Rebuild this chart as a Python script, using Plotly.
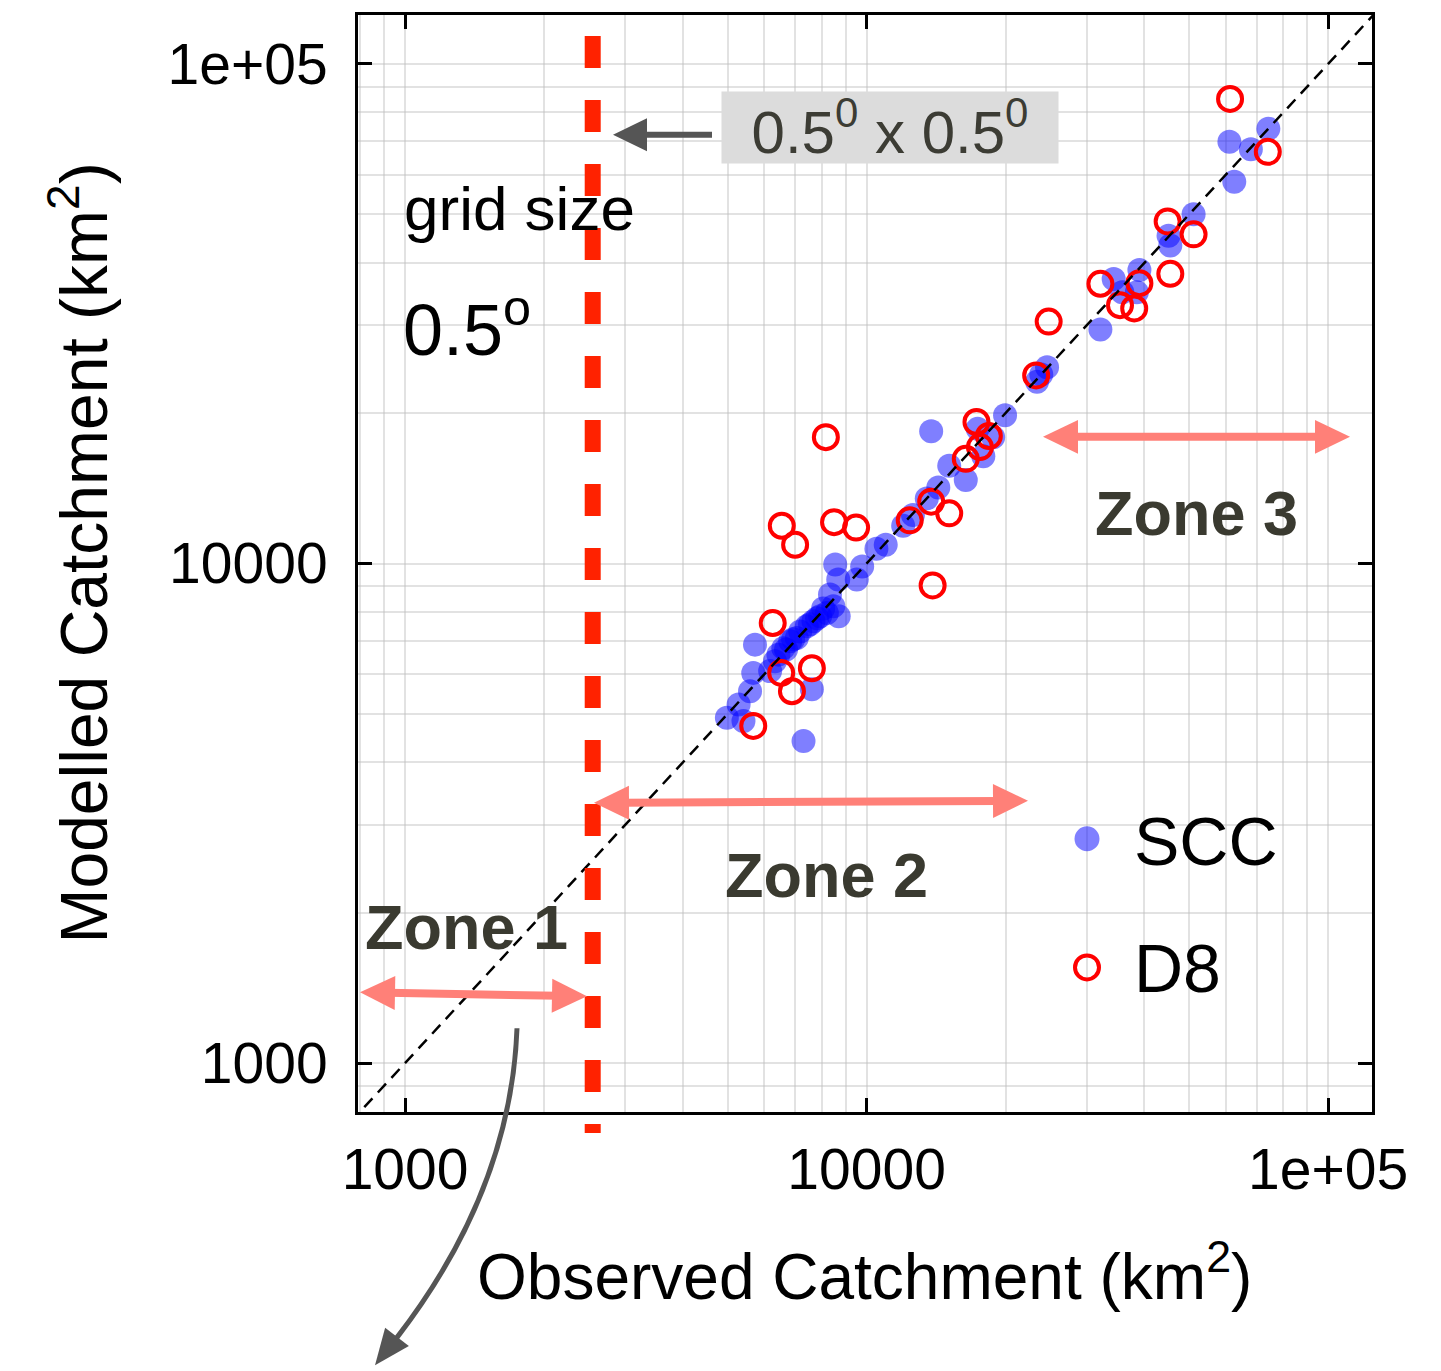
import plotly.graph_objects as go
import math

# ---------------- data ----------------
scc_observed = [74200, 61100, 68000, 62600, 51100, 45100, 45500, 39000, 34300, 38500,
                35800, 32100, 24600, 23400, 23900, 19950, 17400, 18800, 17900, 16400,
                15100, 13800, 14300, 13500, 12600, 12000, 11000, 10500, 9780, 8550,
                8680, 9520, 8470, 8700, 8200, 7930, 7670, 7420, 7180, 7060,
                6830, 6600, 6440, 6330, 5730, 5680, 5590, 5280, 4980, 5410,
                7300, 7610, 6180, 8330, 8050, 7540, 7810, 6930, 6690]
scc_modelled = [74200, 69900, 67500, 58100, 50000, 45300, 43300, 38700, 37100, 34900,
                34900, 29400, 24700, 23100, 23900, 19800, 18600, 17900, 16400, 14700,
                15700, 18400, 14200, 13500, 12500, 11900, 10900, 10700, 9860, 9950,
                9290, 9290, 8210, 7840, 7960, 7840, 7660, 7490, 7310, 7090,
                6990, 6770, 6570, 6370, 6880, 6040, 5550, 5220, 4910, 4840,
                4410, 5600, 6090, 8670, 8130, 7560, 7770, 7050, 6730]

d8_observed = [61300, 74000, 44900, 51100, 45500, 32100, 39000, 35400, 38000, 24800,
               23300, 17300, 18400, 17600, 16400, 8160, 13800, 12400, 15100, 6550,
               7000, 8500, 9490, 13900, 6260, 6530, 7610, 6890, 5680]
d8_modelled = [85100, 66700, 48400, 45600, 38000, 36300, 36400, 32900, 32400, 30500,
               23800, 19200, 18000, 17100, 16200, 17900, 13300, 12200, 12600, 11900,
               10900, 12100, 11800, 9040, 7600, 6040, 6170, 5550, 4730]

series_names = ["SCC", "D8"]
one_to_one = [100, 1000000]
grid_boundary = 2550          # 0.5 deg grid-cell area threshold (km2)

tick_vals = [1000, 10000, 100000]
tick_text = ["1000", "10000", "1e+05"]
minor_vals = [k * 10 ** d for d in (2, 3, 4, 5) for k in range(2, 10)]

x_range_log = [2.898, 5.095]
y_range_log = [2.902, 5.098]

# ---------------- layout helpers ----------------
W, H = 1441, 1371
L, R, T, B = 358, 1372, 12, 1112

def ppx(px):
    return (px - L) / (R - L)

def ppy(py):
    return (B - py) / (B - T)

def data_to_paper_x(v):
    return (math.log10(v) - x_range_log[0]) / (x_range_log[1] - x_range_log[0])

def head_path(tip, direction, length, width):
    dx, dy = direction
    n = math.hypot(dx, dy)
    dx, dy = dx / n, dy / n
    bx, by = tip[0] - length * dx, tip[1] - length * dy
    nx, ny = -dy, dx
    p1 = (bx + nx * width / 2, by + ny * width / 2)
    p2 = (bx - nx * width / 2, by - ny * width / 2)
    pts = [tip, p1, p2]
    s = "M " + " L ".join(f"{ppx(x):.5f},{ppy(y):.5f}" for x, y in pts) + " Z"
    return s

def arrow_shapes(start, end, color, lw, hl, hw, both=False):
    sx, sy = start
    ex, ey = end
    d = (ex - sx, ey - sy)
    n = math.hypot(*d)
    ux, uy = d[0] / n, d[1] / n
    a = (sx + ux * hl * 0.8, sy + uy * hl * 0.8) if both else (sx, sy)
    b = (ex - ux * hl * 0.8, ey - uy * hl * 0.8)
    out = [dict(type="line", xref="paper", yref="paper",
                x0=ppx(a[0]), y0=ppy(a[1]), x1=ppx(b[0]), y1=ppy(b[1]),
                line=dict(color=color, width=lw), layer="above"),
           dict(type="path", xref="paper", yref="paper", path=head_path(end, d, hl, hw),
                fillcolor=color, line=dict(width=0), layer="above")]
    if both:
        out.append(dict(type="path", xref="paper", yref="paper",
                        path=head_path(start, (-d[0], -d[1]), hl, hw),
                        fillcolor=color, line=dict(width=0), layer="above"))
    return out

FONT = "Liberation Sans, Arial, Helvetica, sans-serif"
GRID = "rgba(190,190,190,0.45)"
BLUE = "rgba(0,0,255,0.5)"
RED = "#ff0000"

fig = go.Figure()

fig.add_trace(go.Scatter(
    x=scc_observed, y=scc_modelled, mode="markers", name=series_names[0], showlegend=False,
    marker=dict(symbol="circle", size=24, color=BLUE, line=dict(width=0)),
))
fig.add_trace(go.Scatter(
    x=d8_observed, y=d8_modelled, mode="markers", name=series_names[1], showlegend=False,
    marker=dict(symbol="circle-open", size=24, color=RED, line=dict(width=4, color=RED)),
))
fig.add_trace(go.Scatter(
    x=one_to_one, y=one_to_one, mode="lines", showlegend=False, hoverinfo="skip",
    line=dict(color="black", width=2.5, dash="12px,8px"),
))

axis_common = dict(
    type="log",
    tickvals=tick_vals, ticktext=tick_text,
    ticks="inside", ticklen=14, tickwidth=3, tickcolor="black",
    showline=True, linewidth=3, linecolor="black", mirror="allticks",
    showgrid=True, gridcolor=GRID, gridwidth=1.5,
    minor=dict(tickvals=minor_vals, showgrid=True, gridcolor=GRID, gridwidth=1.5, ticks=""),
    tickfont=dict(family=FONT, size=57, color="black"),
    zeroline=False,
)
fig.update_xaxes(range=x_range_log, ticklabelstandoff=6, **axis_common)
fig.update_yaxes(range=y_range_log, ticklabelstandoff=16, **axis_common)

# red dashed grid-size line
xb = data_to_paper_x(grid_boundary)
zone_col = "#ff8078"
shapes = [
    dict(type="line", xref="paper", yref="paper", x0=xb, x1=xb, y0=ppy(33), y1=ppy(1133),
         line=dict(color="#ff2200", width=16, dash="32px,32px"), layer="above"),
    # curved grey arrow body
    dict(type="path", xref="paper", yref="paper",
         path=f"M {ppx(517)},{ppy(1028)} Q {ppx(511)},{ppy(1190)} {ppx(396.7)},{ppy(1338.5)}",
         line=dict(color="#555555", width=5)),
    dict(type="path", xref="paper", yref="paper",
         path=head_path((375, 1366), (-0.61, 0.79), 36, 30),
         fillcolor="#555555", line=dict(width=0)),
    # legend markers
    dict(type="circle", xref="paper", yref="paper", xsizemode="pixel", ysizemode="pixel",
         xanchor=ppx(1087), yanchor=ppy(838), x0=-12.5, x1=12.5, y0=-12.5, y1=12.5,
         fillcolor=BLUE, line=dict(width=0)),
    dict(type="circle", xref="paper", yref="paper", xsizemode="pixel", ysizemode="pixel",
         xanchor=ppx(1087), yanchor=ppy(967), x0=-12, x1=12, y0=-12, y1=12,
         fillcolor="rgba(0,0,0,0)", line=dict(width=4, color=RED)),
]
# grey arrow to the red line
shapes += arrow_shapes((712, 132), (613, 132), "#555555", 6, 34, 33)
# zone arrows
shapes += arrow_shapes((1043, 435), (1350, 435), zone_col, 8, 35, 34, both=True)
shapes += arrow_shapes((594, 802), (1028, 800), zone_col, 8, 35, 34, both=True)
shapes += arrow_shapes((360, 992), (587, 996), zone_col, 8, 35, 34, both=True)

zone_font = dict(family=FONT, size=63, color="#3a3a30")
annotations = [
    # axis titles
    dict(text="Observed Catchment (km<sup>2</sup>)", xref="paper", yref="paper",
         x=ppx(864), y=ppy(1272), showarrow=False, xanchor="center", yanchor="middle",
         font=dict(family=FONT, size=64, color="black")),
    dict(text="Modelled Catchment (km<sup>2</sup>)", xref="paper", yref="paper",
         x=ppx(79), y=ppy(552), showarrow=False, textangle=-90, xanchor="center", yanchor="middle",
         font=dict(family=FONT, size=66, color="black")),
    # grid size text
    dict(text="grid size", xref="paper", yref="paper", x=ppx(402), y=ppy(206),
         showarrow=False, xanchor="left", yanchor="middle",
         font=dict(family=FONT, size=62, color="black")),
    dict(text="0.5<sup>o</sup>", xref="paper", yref="paper", x=ppx(401), y=ppy(322),
         showarrow=False, xanchor="left", yanchor="middle",
         font=dict(family=FONT, size=72, color="black")),
    # grey box label
    dict(text="0.5<sup>0</sup> x 0.5<sup>0</sup>", xref="paper", yref="paper",
         x=ppx(890), y=ppy(124.5), showarrow=False, xanchor="center", yanchor="middle",
         width=336, height=71, borderpad=0, bgcolor="#dcdcdc",
         font=dict(family=FONT, size=60, color="#3c3c34")),
    # zone labels
    dict(text="<b>Zone 3</b>", xref="paper", yref="paper", x=ppx(1196), y=ppy(511),
         showarrow=False, xanchor="center", yanchor="middle", font=zone_font),
    dict(text="<b>Zone 2</b>", xref="paper", yref="paper", x=ppx(826), y=ppy(874),
         showarrow=False, xanchor="center", yanchor="middle", font=zone_font),
    dict(text="<b>Zone 1</b>", xref="paper", yref="paper", x=ppx(466), y=ppy(926),
         showarrow=False, xanchor="center", yanchor="middle", font=zone_font),
    # legend texts
    dict(text=series_names[0], xref="paper", yref="paper", x=ppx(1132), y=ppy(840),
         showarrow=False, xanchor="left", yanchor="middle",
         font=dict(family=FONT, size=68, color="black")),
    dict(text=series_names[1], xref="paper", yref="paper", x=ppx(1132), y=ppy(968),
         showarrow=False, xanchor="left", yanchor="middle",
         font=dict(family=FONT, size=68, color="black")),
]

fig.update_layout(
    width=W, height=H,
    margin=dict(l=L, r=W - R, t=T, b=H - B, pad=0),
    paper_bgcolor="white", plot_bgcolor="white",
    font=dict(family=FONT, color="black"),
    showlegend=False,
    shapes=shapes,
    annotations=annotations,
)

fig.write_html("out.html")
